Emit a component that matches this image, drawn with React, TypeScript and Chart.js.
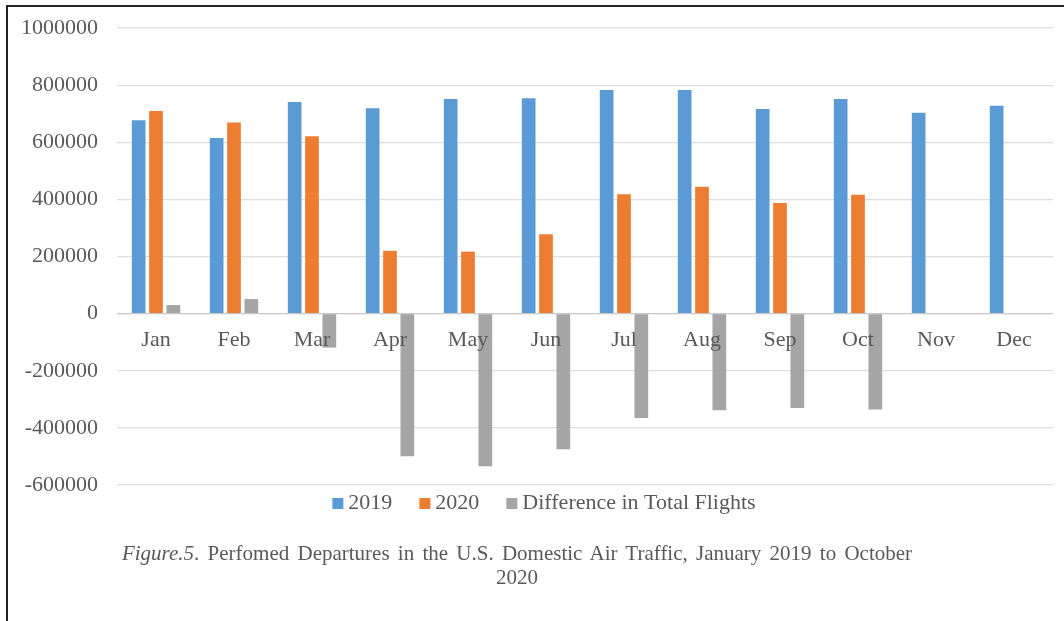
import React, { useEffect, useRef } from "react";
import { Chart, registerables } from "chart.js";

Chart.register(...registerables);

const months = ["Jan", "Feb", "Mar", "Apr", "May", "Jun", "Jul", "Aug", "Sep", "Oct", "Nov", "Dec"];
const series2019 = [677000, 615000, 741000, 719000, 751000, 754000, 783000, 783000, 716000, 751000, 703000, 728000];
const series2020 = [709000, 669000, 621000, 220000, 217000, 278000, 418000, 444000, 387000, 416000, null, null];
const seriesDiff = [30000, 51000, -119000, -499000, -534000, -475000, -365000, -338000, -330000, -336000, null, null];
const seriesNames = ["2019", "2020", "Difference in Total Flights"];
const seriesColors = ["#5b9bd5", "#ed7d31", "#a5a5a5"];
const yMin = -600000;
const yMax = 1000000;
const yStep = 200000;

const FONT = '"Liberation Serif", "Times New Roman", serif';
const TEXT = "#595959";

const categoryLabels = {
  id: "categoryLabels",
  afterDatasetsDraw(chart: any) {
    const { ctx, scales } = chart;
    const x = scales.x;
    const y = scales.y;
    const y0 = y.getPixelForValue(0);
    ctx.save();
    ctx.font = `22px ${FONT}`;
    ctx.fillStyle = TEXT;
    ctx.textAlign = "center";
    ctx.textBaseline = "alphabetic";
    (chart.data.labels as string[]).forEach((l, i) => {
      ctx.fillText(l, x.getPixelForValue(i), y0 + 32);
    });
    ctx.restore();
  },
};

const customLegend = {
  id: "customLegend",
  afterDraw(chart: any) {
    const { ctx } = chart;
    const cy = 503.5;
    const centerX = 544;
    const box = 11;
    const gapText = 5;
    const gapItem = 27;
    ctx.save();
    ctx.font = `22px ${FONT}`;
    ctx.textBaseline = "middle";
    ctx.textAlign = "left";
    const items = chart.data.datasets.map((ds: any) => ({
      label: ds.label as string,
      color: ds.backgroundColor as string,
      w: ctx.measureText(ds.label).width,
    }));
    const total =
      items.reduce((s: number, it: any) => s + box + gapText + it.w, 0) + gapItem * (items.length - 1);
    let x = centerX - total / 2;
    items.forEach((it: any) => {
      ctx.fillStyle = it.color;
      ctx.fillRect(x, cy - box / 2, box, box);
      ctx.fillStyle = TEXT;
      ctx.fillText(it.label, x + box + gapText, cy);
      x += box + gapText + it.w + gapItem;
    });
    ctx.restore();
  },
};

export default function App() {
  const canvasRef = useRef<HTMLCanvasElement | null>(null);

  useEffect(() => {
    document.body.style.margin = "0";
    const canvas = canvasRef.current;
    if (!canvas) return;
    const chart = new Chart(canvas, {
      type: "bar",
      data: {
        labels: months,
        datasets: [
          { label: seriesNames[0], data: series2019, backgroundColor: seriesColors[0] },
          { label: seriesNames[1], data: series2020, backgroundColor: seriesColors[1] },
          { label: seriesNames[2], data: seriesDiff, backgroundColor: seriesColors[2] },
        ],
      },
      options: {
        responsive: false,
        animation: false,
        layout: { padding: { top: 28, right: 11, bottom: 136, left: 0 } },
        datasets: {
          bar: { categoryPercentage: 0.667, barPercentage: 0.79 },
        },
        plugins: {
          legend: { display: false },
          tooltip: { enabled: false },
          title: { display: false },
        },
        scales: {
          x: {
            display: false,
            grid: { display: false },
          },
          y: {
            min: yMin,
            max: yMax,
            border: { display: false },
            grid: {
              drawTicks: false,
              color: (c: any) => (c.tick && c.tick.value === 0 ? "#c8c8c8" : "#dedede"),
              lineWidth: 1.2,
            },
            ticks: {
              stepSize: yStep,
              padding: 19,
              color: TEXT,
              font: { family: FONT, size: 22 },
              callback: (v: any) => String(v),
            },
            afterFit: (scale: any) => {
              scale.width = 117;
              scale.paddingTop = 0;
              scale.paddingBottom = 0;
            },
          },
        },
      },
      plugins: [categoryLabels, customLegend],
    });
    return () => chart.destroy();
  }, []);

  return (
    <div style={{ position: "relative", width: 1064, height: 621, background: "#fff", overflow: "hidden" }}>
      <canvas
        ref={canvasRef}
        width={1064}
        height={621}
        style={{ position: "absolute", left: 0, top: 0, width: 1064, height: 621 }}
      />
      <div
        style={{
          position: "absolute",
          left: 6,
          top: 5,
          width: 1064,
          height: 621,
          borderTop: "2px solid #222",
          borderLeft: "2px solid #222",
          pointerEvents: "none",
        }}
      />
      <div
        style={{
          position: "absolute",
          left: 0,
          top: 541,
          width: 1034,
          textAlign: "center",
          fontFamily: FONT,
          fontSize: 21,
          lineHeight: "24px",
          color: TEXT,
        }}
      >
        <span style={{ wordSpacing: "3px" }}>
          <i>Figure.5</i>. Perfomed Departures in the U.S. Domestic Air Traffic, January 2019 to October
        </span>
        <br />
        2020
      </div>
    </div>
  );
}
